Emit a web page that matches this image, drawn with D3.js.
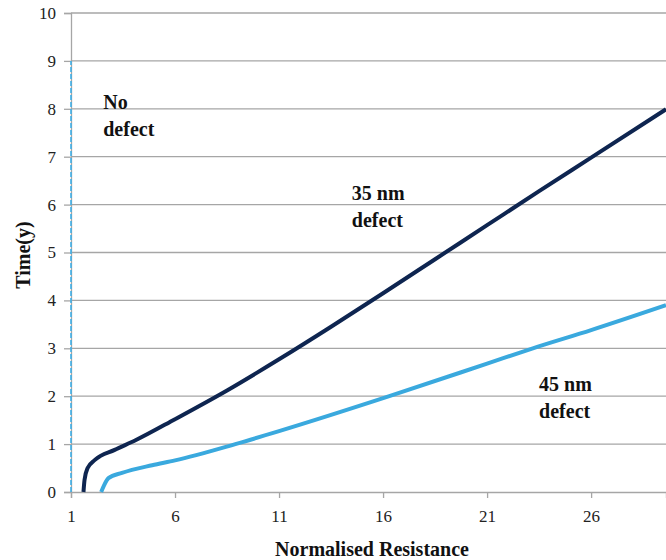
<!DOCTYPE html>
<html>
<head>
<meta charset="utf-8">
<script src="https://cdn.jsdelivr.net/npm/d3@7"></script>
<style>
html,body{margin:0;padding:0;background:#fff;}
svg{display:block;}
text{font-family:"Liberation Serif","Times New Roman",serif;}
</style>
</head>
<body>
<svg id="chart" width="666" height="560"></svg>
<script>
// ---- data ----
const xTicks = [1, 6, 11, 16, 21, 26];
const yTicks = [0, 1, 2, 3, 4, 5, 6, 7, 8, 9, 10];
const noDefect = [[1, 0], [1, 9]];
const defect35 = [[1.6,0],[1.65,0.25],[1.8,0.5],[2.15,0.67],[3.1,0.88],[4.1,1.08],[6,1.52],[8.5,2.12],[11,2.77],[13.5,3.45],[16,4.15],[18.5,4.86],[21,5.57],[23.5,6.28],[26,6.98],[29.6,7.99]];
const defect45 = [[2.45,0],[2.6,0.15],[2.8,0.29],[3.45,0.4],[4.9,0.56],[6,0.66],[8.9,1.0],[11,1.27],[16.3,2.0],[21,2.68],[23.2,3.0],[26,3.38],[29.6,3.9]];
const labels = [
  {lines:["No","defect"], x:2.55, y:8.0},
  {lines:["35 nm","defect"], x:14.5, y:6.1},
  {lines:["45 nm","defect"], x:23.5, y:2.1}
];

// ---- layout ----
(function () {
const svg = d3.select("#chart");
const mLeft = 71, mRight = 666, mTop = 13, mBottom = 492;
const x = d3.scaleLinear().domain([1, 29.6]).range([mLeft, mRight]);
const y = d3.scaleLinear().domain([0, 10]).range([mBottom, mTop]);
const grid = "#a6a6a6";
const serif = '"Liberation Serif","Times New Roman",serif';

// gridlines
svg.append("g").selectAll("line").data(yTicks.filter(d => d > 0)).join("line")
  .attr("x1", mLeft).attr("x2", mRight)
  .attr("y1", d => y(d)).attr("y2", d => y(d))
  .attr("stroke", grid).attr("stroke-width", 1.3);

// y axis
const yAxis = svg.append("g").attr("transform", `translate(${mLeft},0)`)
  .call(d3.axisLeft(y).tickValues(yTicks).tickSize(7).tickPadding(8).tickFormat(d3.format("d")));
yAxis.select(".domain").attr("stroke", grid).attr("stroke-width", 1.3);
yAxis.selectAll(".tick line").attr("stroke", grid).attr("stroke-width", 1.3);
yAxis.selectAll("text").attr("font-size", 17).attr("fill", "#222").style("font-family", serif);

// x axis
const xAxis = svg.append("g").attr("transform", `translate(0,${mBottom})`)
  .call(d3.axisBottom(x).tickValues(xTicks).tickSize(6).tickPadding(12).tickFormat(d3.format("d")));
xAxis.select(".domain").attr("stroke", grid).attr("stroke-width", 1.3);
xAxis.selectAll(".tick line").attr("stroke", grid).attr("stroke-width", 1.3);
xAxis.selectAll("text").attr("font-size", 17).attr("fill", "#222").style("font-family", serif);

// lines
const line = d3.line().x(d => x(d[0])).y(d => y(d[1])).curve(d3.curveMonotoneX);
svg.append("path").datum(noDefect)
  .attr("d", d3.line().x(d => x(d[0])).y(d => y(d[1])))
  .attr("fill", "none").attr("stroke", "#3fb0e8").attr("stroke-width", 1.6)
  .attr("stroke-dasharray", "5,2");
svg.append("path").datum(defect45).attr("d", line)
  .attr("fill", "none").attr("stroke", "#3aa9de").attr("stroke-width", 4);
svg.append("path").datum(defect35).attr("d", line)
  .attr("fill", "none").attr("stroke", "#0e2550").attr("stroke-width", 4);

// annotations
labels.forEach(l => {
  const t = svg.append("text").attr("x", x(l.x)).attr("y", y(l.y))
    .attr("font-size", 20).attr("font-weight", "bold").attr("fill", "#111");
  l.lines.forEach((s, i) => t.append("tspan").attr("x", x(l.x)).attr("dy", i ? 27 : 0).text(s));
});

// axis titles
svg.append("text").attr("x", 372).attr("y", 556).attr("text-anchor", "middle")
  .attr("font-size", 20).attr("font-weight", "bold").attr("fill", "#111")
  .text("Normalised Resistance");
svg.append("text").attr("transform", "translate(30,255) rotate(-90)")
  .attr("text-anchor", "middle")
  .attr("font-size", 20).attr("font-weight", "bold").attr("fill", "#111")
  .text("Time(y)");
})();
</script>
</body>
</html>
